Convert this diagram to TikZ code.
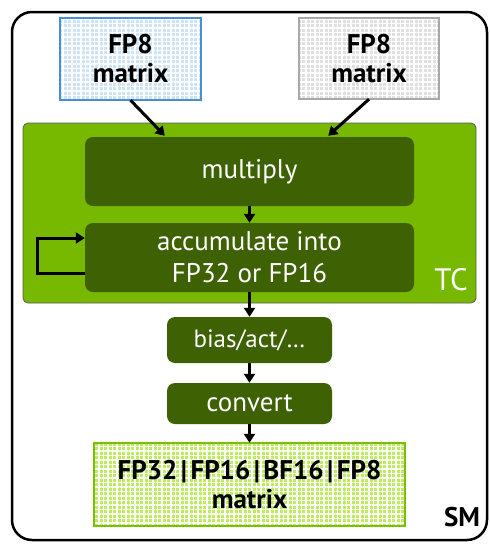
\documentclass[tikz,border=0pt]{standalone}
\usepackage{fontspec}
\setmainfont{PT Sans}
\usetikzlibrary{arrows.meta,patterns.meta,calc}
\definecolor{tcgreen}{HTML}{76B900}
\definecolor{dkgreen}{HTML}{3D6103}
\definecolor{bluefill}{HTML}{CFE3F7}
\definecolor{blueline}{HTML}{4A90D0}
\definecolor{grayfill}{HTML}{E0E0E0}
\definecolor{grayline}{HTML}{A8A8A8}
\definecolor{ltgreen}{HTML}{BDEC60}
\definecolor{ltgreenline}{HTML}{78C000}
\tikzset{
  gridbox/.style={inner sep=0pt, align=center,
    font=\bfseries\fontsize{27}{29}\selectfont,
    postaction={pattern={Lines[distance=4.5pt,line width=1.3pt,angle=0]},pattern color=white},
    postaction={pattern={Lines[distance=4.5pt,line width=1.3pt,angle=90]},pattern color=white},
    postaction={draw=#1, line width=1.4pt}},
  opbox/.style={fill=dkgreen, rounded corners=8pt, text=white, align=center, inner sep=0pt,
    font=\fontsize{27}{32}\selectfont},
  arr/.style={line width=3pt, -{Triangle[width=11pt,length=9pt]}},
}
\newcommand{\vbar}{\hspace{3.5pt}|\hspace{3.5pt}}
\begin{document}
\begin{tikzpicture}[x=1pt,y=-1pt]
\useasboundingbox (0,0) rectangle (490,550);
% SM outer
\node[draw=black, line width=2.5pt, rounded corners=20pt, minimum width=475pt, minimum height=528pt, inner sep=0pt] (sm) at (249.5,276) {};
\node[font=\bfseries\fontsize{27}{28}\selectfont, anchor=center] (smlabel) at (462,517) {SM};
% TC
\node[draw=gray!70!black, fill=tcgreen, line width=0.8pt, rounded corners=5pt, minimum width=453pt, minimum height=180pt, inner sep=0pt] (tc) at (249.5,213) {};
\node[text=white, font=\fontsize{31}{32}\selectfont] (tclabel) at (451,280) {TC};
% matrices
\node[gridbox=blueline, fill=bluefill, minimum width=141pt, minimum height=82pt] (a) at (130.5,59) {FP8\\matrix};
\node[gridbox=grayline, fill=grayfill, minimum width=140pt, minimum height=81pt] (b) at (369,58.5) {FP8\\matrix};
% ops
\node[opbox, minimum width=329pt, minimum height=69pt] (mul) at (249.5,171.5) {multiply};
\node[opbox, minimum width=329pt, minimum height=69pt] (acc) at (249.5,257.5) {accumulate into\\FP32 or FP16};
\node[opbox, minimum width=165pt, minimum height=46pt, font=\fontsize{25}{28}\selectfont] (bias) at (249.5,340) {bias/act/…};
\node[opbox, minimum width=165pt, minimum height=41pt] (conv) at (249.5,403.5) {convert};
% output
\node[gridbox=ltgreenline, fill=ltgreen, minimum width=311pt, minimum height=83pt] (out) at (249.5,484.5) {FP32\vbar FP16\vbar BF16\vbar FP8\\matrix};
% coordinates
\coordinate (ain) at ($(mul.north west)+(80,-1)$);
\coordinate (bin) at ($(mul.north east)+(-86,-1)$);
\coordinate (loopl) at (37,0);
% arrows
\draw[arr] (a.south) -- (ain);
\draw[arr] (b.south) -- (bin);
\draw[arr] (mul.south) -- (acc.north);
\draw[arr] ([yshift=-15.5pt]acc.west) -| ([yshift=19.5pt]acc.west -| loopl) -- ([yshift=19.5pt]acc.west);
\draw[arr] (acc.south) -- (bias.north);
\draw[arr] (bias.south) -- (conv.north);
\draw[arr] (conv.south) -- (out.north);
\end{tikzpicture}
\end{document}
